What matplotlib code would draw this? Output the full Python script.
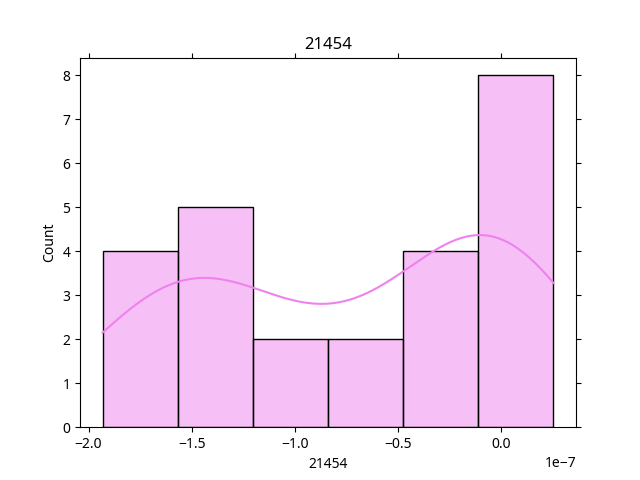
import numpy as np
import matplotlib
matplotlib.use('Agg')
import matplotlib.pyplot as plt
import seaborn as sns

plt.rcParams['font.family'] = ['Noto Sans', 'DejaVu Sans']

# sample values (units of 1e-7), read per bin from the histogram
values = np.array([
    -1.932, -1.80, -1.70, -1.62,
    -1.55, -1.48, -1.42, -1.35, -1.25,
    -1.10, -0.95,
    -0.70, -0.55,
    -0.42, -0.30, -0.22, -0.15,
    -0.08, -0.03, 0.0, 0.03, 0.06, 0.10, 0.18, 0.252,
]) * 1e-7

fig, ax = plt.subplots(figsize=(6.4, 4.8), dpi=100)
sns.histplot(values, bins=6, kde=True, color='violet', edgecolor='black', ax=ax)
ax.set_title('21454')
ax.set_xlabel('21454')
ax.set_ylabel('Count')
ax.tick_params(top=True, right=True)
plt.savefig('out.png')
